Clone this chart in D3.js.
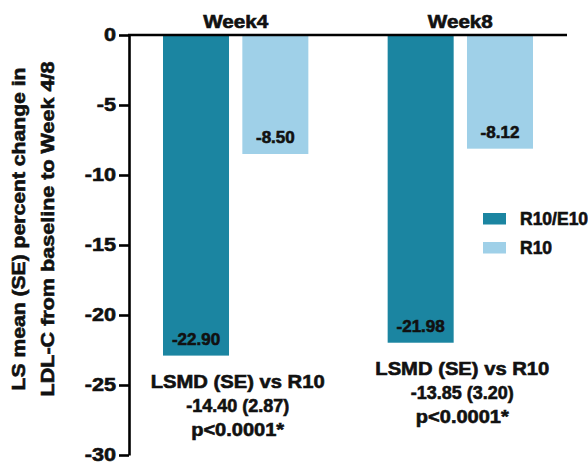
<!DOCTYPE html>
<html>
<head>
<meta charset="utf-8">
<script src="https://cdn.jsdelivr.net/npm/d3@7"></script>
<style>
  body { margin: 0; background: #fff; }
  svg { display: block; }
  text { font-family: "Liberation Sans", Arial, Helvetica, sans-serif; font-weight: bold; fill: #111; stroke: #111; stroke-width: 0.6px; }
</style>
</head>
<body>
<svg id="chart" width="588" height="463"></svg>
<script>
// ---- data ----
const weeks = ["Week4", "Week8"];
const seriesNames = ["R10/E10", "R10"];
const r10e10Values = [-22.90, -21.98];
const r10Values = [-8.50, -8.12];
const yTicks = [0, -5, -10, -15, -20, -25, -30];
const lsmdLines = [
  ["LSMD (SE) vs R10", "-14.40 (2.87)", "p<0.0001*"],
  ["LSMD (SE) vs R10", "-13.85 (3.20)", "p<0.0001*"]
];
const yLabelLines = ["LS mean (SE) percent change in", "LDL-C from baseline to Week 4/8"];

// ---- styles ----
const colors = { "R10/E10": "#1b85a1", "R10": "#9fd0e8" };
const svg = d3.select("#chart");

function stretch(sel, f) {
  sel.each(function () {
    const len = this.getComputedTextLength();
    d3.select(this).attr("textLength", len * f).attr("lengthAdjust", "spacingAndGlyphs");
  });
}
function fitTo(sel, w) {
  sel.attr("textLength", w).attr("lengthAdjust", "spacingAndGlyphs");
}

const y = d3.scaleLinear().domain([0, -30]).range([35, 455]);
const x0 = d3.scaleBand().domain(weeks).range([163, 533]).paddingInner(0.353).paddingOuter(0);
const x1 = d3.scaleBand().domain(seriesNames).range([0, x0.bandwidth()]).paddingInner(0.168);

const data = weeks.map((w, i) => ({
  week: w,
  vals: [{ s: "R10/E10", v: r10e10Values[i] }, { s: "R10", v: r10Values[i] }],
  lsmd: lsmdLines[i]
}));

// bars
const g = svg.selectAll("g.grp").data(data).enter().append("g")
  .attr("class", "grp")
  .attr("transform", d => `translate(${x0(d.week)},0)`);

g.selectAll("rect").data(d => d.vals).enter().append("rect")
  .attr("x", d => x1(d.s))
  .attr("width", x1.bandwidth())
  .attr("y", y(0))
  .attr("height", d => y(d.v) - y(0))
  .attr("fill", d => colors[d.s]);

// value labels
g.selectAll("text.val").data(d => d.vals).enter().append("text")
  .attr("class", "val")
  .attr("x", d => x1(d.s) + x1.bandwidth() / 2)
  .attr("y", d => y(d.v) - 11)
  .attr("text-anchor", "middle")
  .attr("font-size", 17)
  .text(d => d.v.toFixed(2))
  .call(stretch, 1.0);

// week labels
svg.selectAll("text.week").data(weeks).enter().append("text")
  .attr("class", "week")
  .attr("x", d => x0(d) + x0.bandwidth() / 2)
  .attr("y", 27.5)
  .attr("text-anchor", "middle")
  .attr("font-size", 18)
  .text(d => d)
  .call(fitTo, 65);

// LSMD annotations
const lsmdWidths = [174, 103, 93];
data.forEach(d => {
  const base = y(d.vals[0].v) + 32;
  const cx = x0(d.week) + x0.bandwidth() / 2 + 2;
  d.lsmd.forEach((line, j) => {
    svg.append("text")
      .attr("x", cx)
      .attr("y", base + j * 24)
      .attr("text-anchor", "middle")
      .attr("font-size", 18)
      .text(line)
      .call(fitTo, lsmdWidths[j]);
  });
});

// y axis
const yAxis = d3.axisLeft(y).tickValues(yTicks).tickSize(10).tickSizeOuter(0).tickPadding(3).tickFormat(d => String(d));
const ax = svg.append("g").attr("transform", "translate(129,0)").call(yAxis);
ax.select(".domain").attr("stroke", "#000").attr("stroke-width", 2.6);
ax.selectAll(".tick line").attr("stroke", "#000").attr("stroke-width", 2.6);
ax.selectAll(".tick text")
  .attr("font-size", 18)
  .attr("font-family", "'Liberation Sans', Arial, sans-serif")
  .attr("font-weight", "bold")
  .attr("fill", "#111")
  .attr("dy", "0.3em")
  .call(stretch, 1.2);

// zero baseline (top axis line)
svg.append("line")
  .attr("x1", 128).attr("x2", 567)
  .attr("y1", y(0)).attr("y2", y(0))
  .attr("stroke", "#000").attr("stroke-width", 2.6);

// y label
const yLabelWidths = [323, 335];
yLabelLines.forEach((line, i) => {
  svg.append("text")
    .attr("transform", `translate(${25 + i * 29},229) rotate(-90)`)
    .attr("text-anchor", "middle")
    .attr("font-size", 18)
    .text(line)
    .call(fitTo, yLabelWidths[i]);
});

// legend
const lg = svg.selectAll("g.leg").data(seriesNames).enter().append("g")
  .attr("class", "leg")
  .attr("transform", (d, i) => `translate(483,${213 + i * 29})`);
lg.append("rect").attr("width", 23).attr("height", 11.5).attr("fill", d => colors[d]);
lg.append("text").attr("x", 37).attr("y", 12).attr("font-size", 17.5).text(d => d);
</script>
</body>
</html>
